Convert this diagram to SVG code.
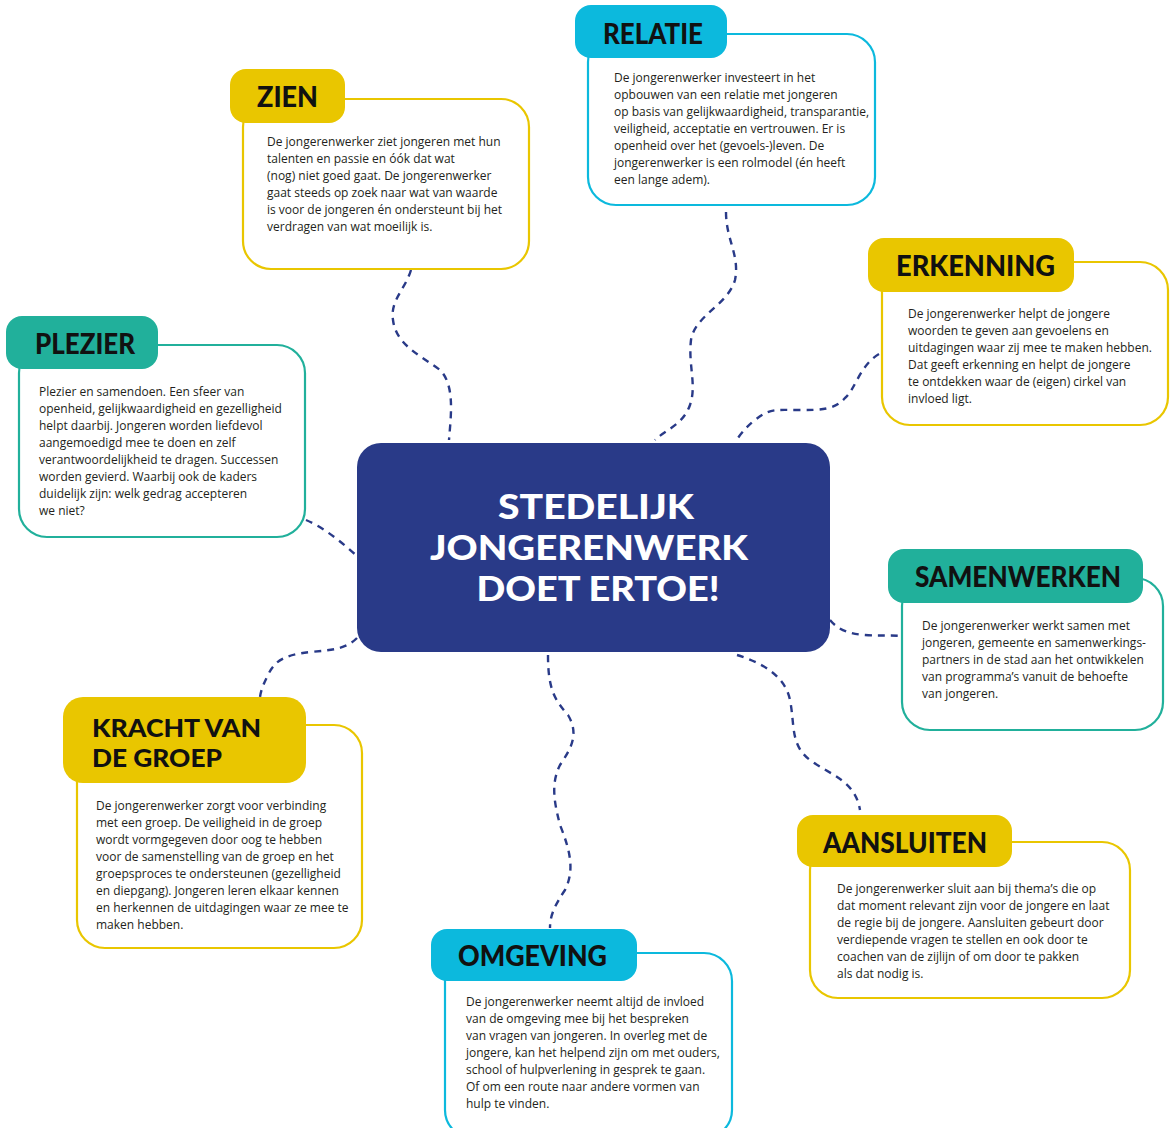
<svg xmlns="http://www.w3.org/2000/svg" width="1171" height="1128" viewBox="0 0 1171 1128">
<style>
.box{fill:#fff;stroke-width:2.2}
.y{stroke:#e9c600}.yf{fill:#e9c600}
.c{stroke:#0cb9dd}.cf{fill:#0cb9dd}
.t{stroke:#21b09b}.tf{fill:#21b09b}
.ttl{font-family:Lato,"Open Sans","DejaVu Sans",sans-serif;font-weight:900;font-size:28px;fill:#111}
.ttl2{font-family:Lato,"Open Sans","DejaVu Sans",sans-serif;font-weight:900;font-size:25px;fill:#111}
.body{font-family:"Open Sans","Noto Sans",sans-serif;font-size:12px;fill:#231f20}
.conn{fill:none;stroke:#293a88;stroke-width:2.4;stroke-dasharray:7 6}
.main{font-family:Lato,"Open Sans","DejaVu Sans",sans-serif;font-weight:900;font-size:34px;fill:#fff}
</style>
<rect width="1171" height="1128" fill="#fff"/>
<g id="connectors">
<path class="conn" d="M411,270 C405,290 390,300 393,320 C396,345 420,355 440,370 C455,385 451,415 449,440"/>
<path class="conn" d="M726,212 C726,240 740,255 735,280 C728,305 695,315 691,340 C688,365 697,385 690,405 C683,425 665,430 655,440"/>
<path class="conn" d="M879,354 C860,365 855,390 845,398 C835,410 820,410 800,410 C775,410 770,408 755,420 C745,428 740,435 735,442"/>
<path class="conn" d="M306,520 C325,528 345,545 358,557"/>
<path class="conn" d="M357,638 C345,650 330,650 310,652 C285,655 275,660 268,675 C263,685 261,690 260,697"/>
<path class="conn" d="M548,655 C548,690 555,700 568,715 C580,735 570,750 560,765 C550,785 555,805 560,825 C570,850 575,870 565,890 C555,905 550,915 550,928"/>
<path class="conn" d="M737,655 C760,662 785,675 790,700 C795,725 790,745 810,760 C830,775 855,780 860,810"/>
<path class="conn" d="M830,620 C838,630 850,634 865,635 C880,636 890,635 902,636"/>
</g>
<g id="center">
<rect x="357" y="443" width="473" height="209" rx="24" fill="#293a88"/>
<text class="main" x="596" y="519" text-anchor="middle" textLength="196" lengthAdjust="spacingAndGlyphs">STEDELIJK</text>
<text class="main" x="589" y="560" text-anchor="middle" textLength="318" lengthAdjust="spacingAndGlyphs">JONGERENWERK</text>
<text class="main" x="598" y="601" text-anchor="middle" textLength="243" lengthAdjust="spacingAndGlyphs">DOET ERTOE!</text>
</g>
<g id="zien">
<rect class="box y" x="243" y="99" width="286" height="170" rx="28"/>
<rect class="yf" x="230" y="69" width="115" height="54" rx="16"/>
<text class="ttl" x="257" y="107" textLength="61" lengthAdjust="spacingAndGlyphs">ZIEN</text>
<text class="body" x="267" y="146">De jongerenwerker ziet jongeren met hun</text>
<text class="body" x="267" y="163">talenten en passie en óók dat wat</text>
<text class="body" x="267" y="180">(nog) niet goed gaat. De jongerenwerker</text>
<text class="body" x="267" y="197">gaat steeds op zoek naar wat van waarde</text>
<text class="body" x="267" y="214">is voor de jongeren én ondersteunt bij het</text>
<text class="body" x="267" y="231">verdragen van wat moeilijk is.</text>
</g>
<g id="relatie">
<rect class="box c" x="588" y="34" width="287" height="171" rx="28"/>
<rect class="cf" x="575" y="5" width="152" height="53" rx="16"/>
<text class="ttl" x="603" y="44" textLength="100" lengthAdjust="spacingAndGlyphs">RELATIE</text>
<text class="body" x="614" y="82">De jongerenwerker investeert in het</text>
<text class="body" x="614" y="99">opbouwen van een relatie met jongeren</text>
<text class="body" x="614" y="116">op basis van gelijkwaardigheid, transparantie,</text>
<text class="body" x="614" y="133">veiligheid, acceptatie en vertrouwen. Er is</text>
<text class="body" x="614" y="150">openheid over het (gevoels-)leven. De</text>
<text class="body" x="614" y="167">jongerenwerker is een rolmodel (én heeft</text>
<text class="body" x="614" y="184">een lange adem).</text>
</g>
<g id="erkenning">
<rect class="box y" x="882" y="262" width="286" height="163" rx="28"/>
<rect class="yf" x="868" y="238" width="206" height="54" rx="16"/>
<text class="ttl" x="896" y="276" textLength="159" lengthAdjust="spacingAndGlyphs">ERKENNING</text>
<text class="body" x="908" y="318">De jongerenwerker helpt de jongere</text>
<text class="body" x="908" y="335">woorden te geven aan gevoelens en</text>
<text class="body" x="908" y="352">uitdagingen waar zij mee te maken hebben.</text>
<text class="body" x="908" y="369">Dat geeft erkenning en helpt de jongere</text>
<text class="body" x="908" y="386">te ontdekken waar de (eigen) cirkel van</text>
<text class="body" x="908" y="403">invloed ligt.</text>
</g>
<g id="plezier">
<rect class="box t" x="19" y="345" width="286" height="192" rx="28"/>
<rect class="tf" x="6" y="316" width="152" height="53" rx="16"/>
<text class="ttl" x="35" y="354" textLength="100" lengthAdjust="spacingAndGlyphs">PLEZIER</text>
<text class="body" x="39" y="396">Plezier en samendoen. Een sfeer van</text>
<text class="body" x="39" y="413">openheid, gelijkwaardigheid en gezelligheid</text>
<text class="body" x="39" y="430">helpt daarbij. Jongeren worden liefdevol</text>
<text class="body" x="39" y="447">aangemoedigd mee te doen en zelf</text>
<text class="body" x="39" y="464">verantwoordelijkheid te dragen. Successen</text>
<text class="body" x="39" y="481">worden gevierd. Waarbij ook de kaders</text>
<text class="body" x="39" y="498">duidelijk zijn: welk gedrag accepteren</text>
<text class="body" x="39" y="515">we niet?</text>
</g>
<g id="samenwerken">
<rect class="box t" x="902" y="578" width="261" height="152" rx="28"/>
<rect class="tf" x="888" y="549" width="255" height="54" rx="16"/>
<text class="ttl" x="915" y="587" textLength="206" lengthAdjust="spacingAndGlyphs">SAMENWERKEN</text>
<text class="body" x="922" y="630">De jongerenwerker werkt samen met</text>
<text class="body" x="922" y="647">jongeren, gemeente en samenwerkings-</text>
<text class="body" x="922" y="664">partners in de stad aan het ontwikkelen</text>
<text class="body" x="922" y="681">van programma’s vanuit de behoefte</text>
<text class="body" x="922" y="698">van jongeren.</text>
</g>
<g id="kracht-van-de-groep">
<rect class="box y" x="77" y="725" width="285" height="223" rx="28"/>
<rect class="yf" x="63" y="697" width="243" height="86" rx="20"/>
<text class="ttl2" x="92" y="737" textLength="169" lengthAdjust="spacingAndGlyphs">KRACHT VAN</text>
<text class="ttl2" x="92" y="767" textLength="130" lengthAdjust="spacingAndGlyphs">DE GROEP</text>
<text class="body" x="96" y="810">De jongerenwerker zorgt voor verbinding</text>
<text class="body" x="96" y="827">met een groep. De veiligheid in de groep</text>
<text class="body" x="96" y="844">wordt vormgegeven door oog te hebben</text>
<text class="body" x="96" y="861">voor de samenstelling van de groep en het</text>
<text class="body" x="96" y="878">groepsproces te ondersteunen (gezelligheid</text>
<text class="body" x="96" y="895">en diepgang). Jongeren leren elkaar kennen</text>
<text class="body" x="96" y="912">en herkennen de uitdagingen waar ze mee te</text>
<text class="body" x="96" y="929">maken hebben.</text>
</g>
<g id="aansluiten">
<rect class="box y" x="810" y="842" width="320" height="156" rx="28"/>
<rect class="yf" x="797" y="815" width="215" height="52" rx="16"/>
<text class="ttl" x="823" y="853" textLength="164" lengthAdjust="spacingAndGlyphs">AANSLUITEN</text>
<text class="body" x="837" y="893">De jongerenwerker sluit aan bij thema’s die op</text>
<text class="body" x="837" y="910">dat moment relevant zijn voor de jongere en laat</text>
<text class="body" x="837" y="927">de regie bij de jongere. Aansluiten gebeurt door</text>
<text class="body" x="837" y="944">verdiepende vragen te stellen en ook door te</text>
<text class="body" x="837" y="961">coachen van de zijlijn of om door te pakken</text>
<text class="body" x="837" y="978">als dat nodig is.</text>
</g>
<g id="omgeving">
<rect class="box c" x="445" y="953" width="287" height="185" rx="28"/>
<rect class="cf" x="431" y="929" width="206" height="52" rx="16"/>
<text class="ttl" x="458" y="966" textLength="149" lengthAdjust="spacingAndGlyphs">OMGEVING</text>
<text class="body" x="466" y="1006">De jongerenwerker neemt altijd de invloed</text>
<text class="body" x="466" y="1023">van de omgeving mee bij het bespreken</text>
<text class="body" x="466" y="1040">van vragen van jongeren. In overleg met de</text>
<text class="body" x="466" y="1057">jongere, kan het helpend zijn om met ouders,</text>
<text class="body" x="466" y="1074">school of hulpverlening in gesprek te gaan.</text>
<text class="body" x="466" y="1091">Of om een route naar andere vormen van</text>
<text class="body" x="466" y="1108">hulp te vinden.</text>
</g>
</svg>
